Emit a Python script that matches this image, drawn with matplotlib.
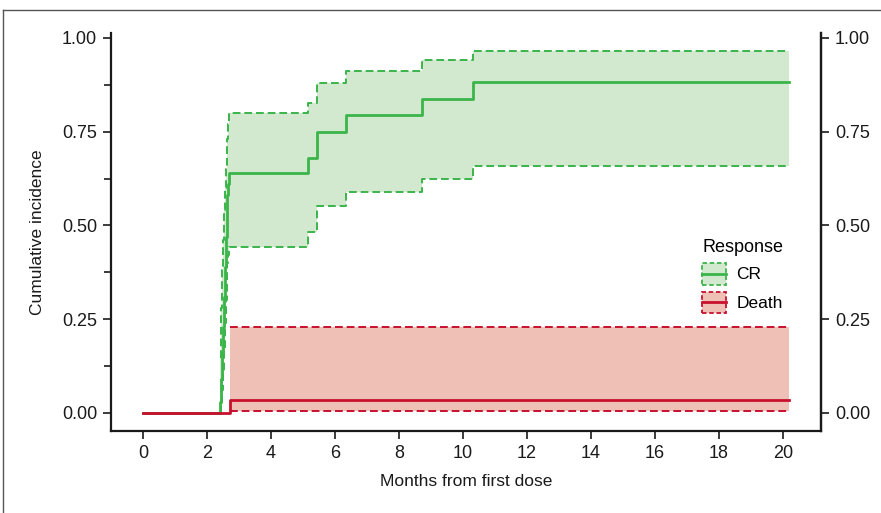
import matplotlib
matplotlib.use('Agg')
import matplotlib.pyplot as plt
import numpy as np
from matplotlib.patches import Rectangle
from matplotlib.lines import Line2D
from matplotlib.legend_handler import HandlerBase

# cumulative incidence of CR (step function)
cr_time = [0, 2.40, 2.43, 2.46, 2.49, 2.52, 2.55, 2.58, 2.61, 2.64, 2.67, 2.70,
           5.17, 5.43, 6.35, 8.72, 10.30, 20.2]
cr_est = [0, 0.03, 0.09, 0.16, 0.23, 0.31, 0.39, 0.47, 0.52, 0.58, 0.61, 0.64,
          0.68, 0.75, 0.795, 0.837, 0.882, 0.882]
cr_low = [np.nan, 0.00, 0.02, 0.06, 0.11, 0.17, 0.24, 0.30, 0.36, 0.40, 0.42, 0.443,
          0.483, 0.553, 0.589, 0.624, 0.659, 0.659]
cr_high = [np.nan, 0.15, 0.28, 0.38, 0.46, 0.54, 0.60, 0.65, 0.69, 0.73, 0.77, 0.80,
           0.827, 0.881, 0.913, 0.941, 0.965, 0.965]

# cumulative incidence of death
death_time = [0, 2.72, 20.2]
death_est = [0, 0.035, 0.035]
death_low = [np.nan, 0.005, 0.005]
death_high = [np.nan, 0.23, 0.23]

groups = ['CR', 'Death']
green = '#3bb54a'
green_fill = '#d2e9cf'
red = '#c8102e'
red_fill = '#efc0b6'
dash = (0, (4, 2))

plt.rcParams['font.family'] = ['Liberation Sans', 'DejaVu Sans']


class Band:
    def __init__(self, color, fill):
        self.color = color
        self.fill = fill


class BandHandler(HandlerBase):
    # dashed box filled with the band colour, solid line across the middle
    def create_artists(self, legend, h, xdescent, ydescent, width, height, fontsize, trans):
        r = Rectangle((-xdescent, -ydescent), width, height, facecolor=h.fill,
                      edgecolor=h.color, ls=(0, (2.5, 1.5)), lw=1.3, transform=trans)
        ym = height / 2 - ydescent
        l = Line2D([-xdescent, -xdescent + width], [ym, ym], color=h.color, lw=2,
                   transform=trans)
        return [r, l]


fig = plt.figure(figsize=(8.81, 5.13), dpi=100)
ax = fig.add_axes([111 / 881, 1 - 431 / 513, 710 / 881, 398 / 513])

for t, est, lo, hi, col, fill in [
        (cr_time, cr_est, cr_low, cr_high, green, green_fill),
        (death_time, death_est, death_low, death_high, red, red_fill)]:
    t = np.array(t)
    lo = np.array(lo)
    hi = np.array(hi)
    ok = ~np.isnan(lo)
    ax.fill_between(t[ok], lo[ok], hi[ok], step='post', color=fill, lw=0, zorder=1)
    ax.step(t[ok], lo[ok], where='post', color=col, ls=dash, lw=1.4, zorder=2)
    ax.step(t[ok], hi[ok], where='post', color=col, ls=dash, lw=1.4, zorder=2)
    ax.step(t, est, where='post', color=col, lw=2, zorder=3)

ax.set_xlim(-1.0, 21.19)
ax.set_ylim(-0.048, 1.013)
ax.set_xticks(range(0, 21, 2))
ax.set_yticks([0, 0.25, 0.5, 0.75, 1.0])
ax.set_yticklabels(['0.00', '0.25', '0.50', '0.75', '1.00'])
ax.set_yticks([0.125, 0.375, 0.625, 0.875], minor=True)

for s in ['left', 'bottom', 'right']:
    ax.spines[s].set_linewidth(1.6)
    ax.spines[s].set_color('#1a1a1a')
ax.spines['top'].set_visible(False)
ax.tick_params(axis='both', which='major', length=6, width=1.2, labelsize=13,
               color='#1a1a1a', labelcolor='#1a1a1a', pad=4)
ax.tick_params(axis='y', which='minor', length=5, width=1.2, color='#1a1a1a')

sec = ax.secondary_yaxis('right')
sec.set_yticks([0, 0.25, 0.5, 0.75, 1.0])
sec.set_yticklabels(['0.00', '0.25', '0.50', '0.75', '1.00'])
sec.spines['right'].set_linewidth(1.6)
sec.spines['right'].set_color('#1a1a1a')
sec.tick_params(length=6, width=1.2, labelsize=13, color='#1a1a1a', labelcolor='#1a1a1a', pad=4)

ax.set_xlabel('Months from first dose', fontsize=12.5, labelpad=9, color='#1a1a1a')
ax.set_ylabel('Cumulative incidence', fontsize=12.5, labelpad=12, color='#1a1a1a')

handles = [Band(green, green_fill), Band(red, red_fill)]
leg = ax.legend(handles, groups, title='Response', frameon=False,
                handler_map={Band: BandHandler()},
                loc='upper left', bbox_to_anchor=(0.823, 0.50),
                fontsize=12.5, title_fontsize=13, handlelength=1.35, handleheight=1.55,
                handletextpad=0.6, labelspacing=0.4, borderaxespad=0)
leg._legend_box.align = 'left'

# outer frame of the panel
fig.add_artist(Line2D([3 / 881, 1.0], [1 - 10 / 513, 1 - 10 / 513], transform=fig.transFigure,
                      color='#555555', lw=1))
fig.add_artist(Line2D([3 / 881, 3 / 881], [0, 1 - 10 / 513], transform=fig.transFigure,
                      color='#555555', lw=1))

fig.savefig('out.png', dpi=100)
